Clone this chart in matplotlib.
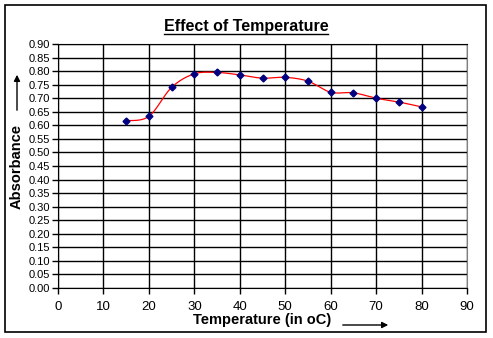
import matplotlib.pyplot as plt
from matplotlib.patches import Rectangle
import numpy as np

plt.rcParams['font.family'] = ['Liberation Sans', 'DejaVu Sans']

temps = [15, 20, 25, 30, 35, 40, 45, 50, 55, 60, 65, 70, 75, 80]
absorb = [0.617, 0.633, 0.740, 0.790, 0.795, 0.786, 0.774, 0.777, 0.763,
          0.722, 0.720, 0.700, 0.686, 0.668]
x_ticks = list(range(0, 91, 10))
y_ticks = [round(v * 0.05, 2) for v in range(19)]


def smooth(x, y, n=20):
    # Excel-like smoothed line (Catmull-Rom through bezier segments)
    x = np.asarray(x, float)
    y = np.asarray(y, float)
    px = np.concatenate([[x[0]], x, [x[-1]]])
    py = np.concatenate([[y[0]], y, [y[-1]]])
    xs, ys = [], []
    t = np.linspace(0, 1, n)
    for i in range(1, len(px) - 2):
        p0 = np.array([px[i], py[i]])
        p3 = np.array([px[i + 1], py[i + 1]])
        c1 = p0 + (p3 - np.array([px[i - 1], py[i - 1]])) / 6
        c2 = p3 - (np.array([px[i + 2], py[i + 2]]) - p0) / 6
        pts = ((1 - t) ** 3)[:, None] * p0 + (3 * (1 - t) ** 2 * t)[:, None] * c1 \
            + (3 * (1 - t) * t ** 2)[:, None] * c2 + (t ** 3)[:, None] * p3
        xs.extend(pts[:, 0])
        ys.extend(pts[:, 1])
    return xs, ys


fig = plt.figure(figsize=(4.93, 3.38), dpi=100)
fig.patches.append(Rectangle((5 / 493, 6 / 338), 481 / 493, 327 / 338,
                             transform=fig.transFigure, fill=False,
                             edgecolor='black', linewidth=1.2))

ax = fig.add_axes([58 / 493, 50 / 338, 409 / 493, 244 / 338])
sx, sy = smooth(temps, absorb)
ax.plot(sx, sy, color='#ff0000', linewidth=0.9, zorder=3)
ax.plot(temps, absorb, linestyle='none', marker='D', markersize=3.5,
        color='#000080', zorder=4)

ax.set_xlim(0, 90)
ax.set_ylim(0, 0.9)
ax.set_xticks(x_ticks)
ax.set_yticks(y_ticks)
ax.set_yticklabels([f'{v:.2f}' for v in y_ticks], fontsize=8)
ax.set_xticklabels([str(v) for v in x_ticks], fontsize=9.5)
ax.grid(True, color='black', linewidth=1)
ax.tick_params(axis='both', length=4, width=1, color='black')
ax.tick_params(axis='x', pad=5)
ax.tick_params(axis='y', pad=2)
for s in ['left', 'bottom', 'top']:
    ax.spines[s].set_color('black')
ax.spines['right'].set_color('#808080')

fig.text(246 / 493, 1 - 27 / 338, 'Effect of Temperature', ha='center',
         va='center', fontsize=11.5, fontweight='bold')
fig.add_artist(plt.Line2D([164 / 493, 328 / 493], [1 - 33.5 / 338, 1 - 33.5 / 338],
                          color='black', linewidth=1))
fig.text(17 / 493, 1 - 166 / 338, 'Absorbance', rotation=90, ha='center',
         va='center', fontsize=10.5, fontweight='bold')
fig.text(262 / 493, 1 - 320 / 338, 'Temperature (in oC)', ha='center',
         va='center', fontsize=10.5, fontweight='bold')

ax.annotate('', xy=(17, 338 - 72), xytext=(17, 338 - 113),
            xycoords='figure pixels', textcoords='figure pixels',
            arrowprops=dict(arrowstyle='-|>', color='black', lw=1,
                            mutation_scale=9))
ax.annotate('', xy=(391, 338 - 325), xytext=(340, 338 - 325),
            xycoords='figure pixels', textcoords='figure pixels',
            arrowprops=dict(arrowstyle='-|>', color='black', lw=1,
                            mutation_scale=9))

fig.savefig('out.png', dpi=100)
